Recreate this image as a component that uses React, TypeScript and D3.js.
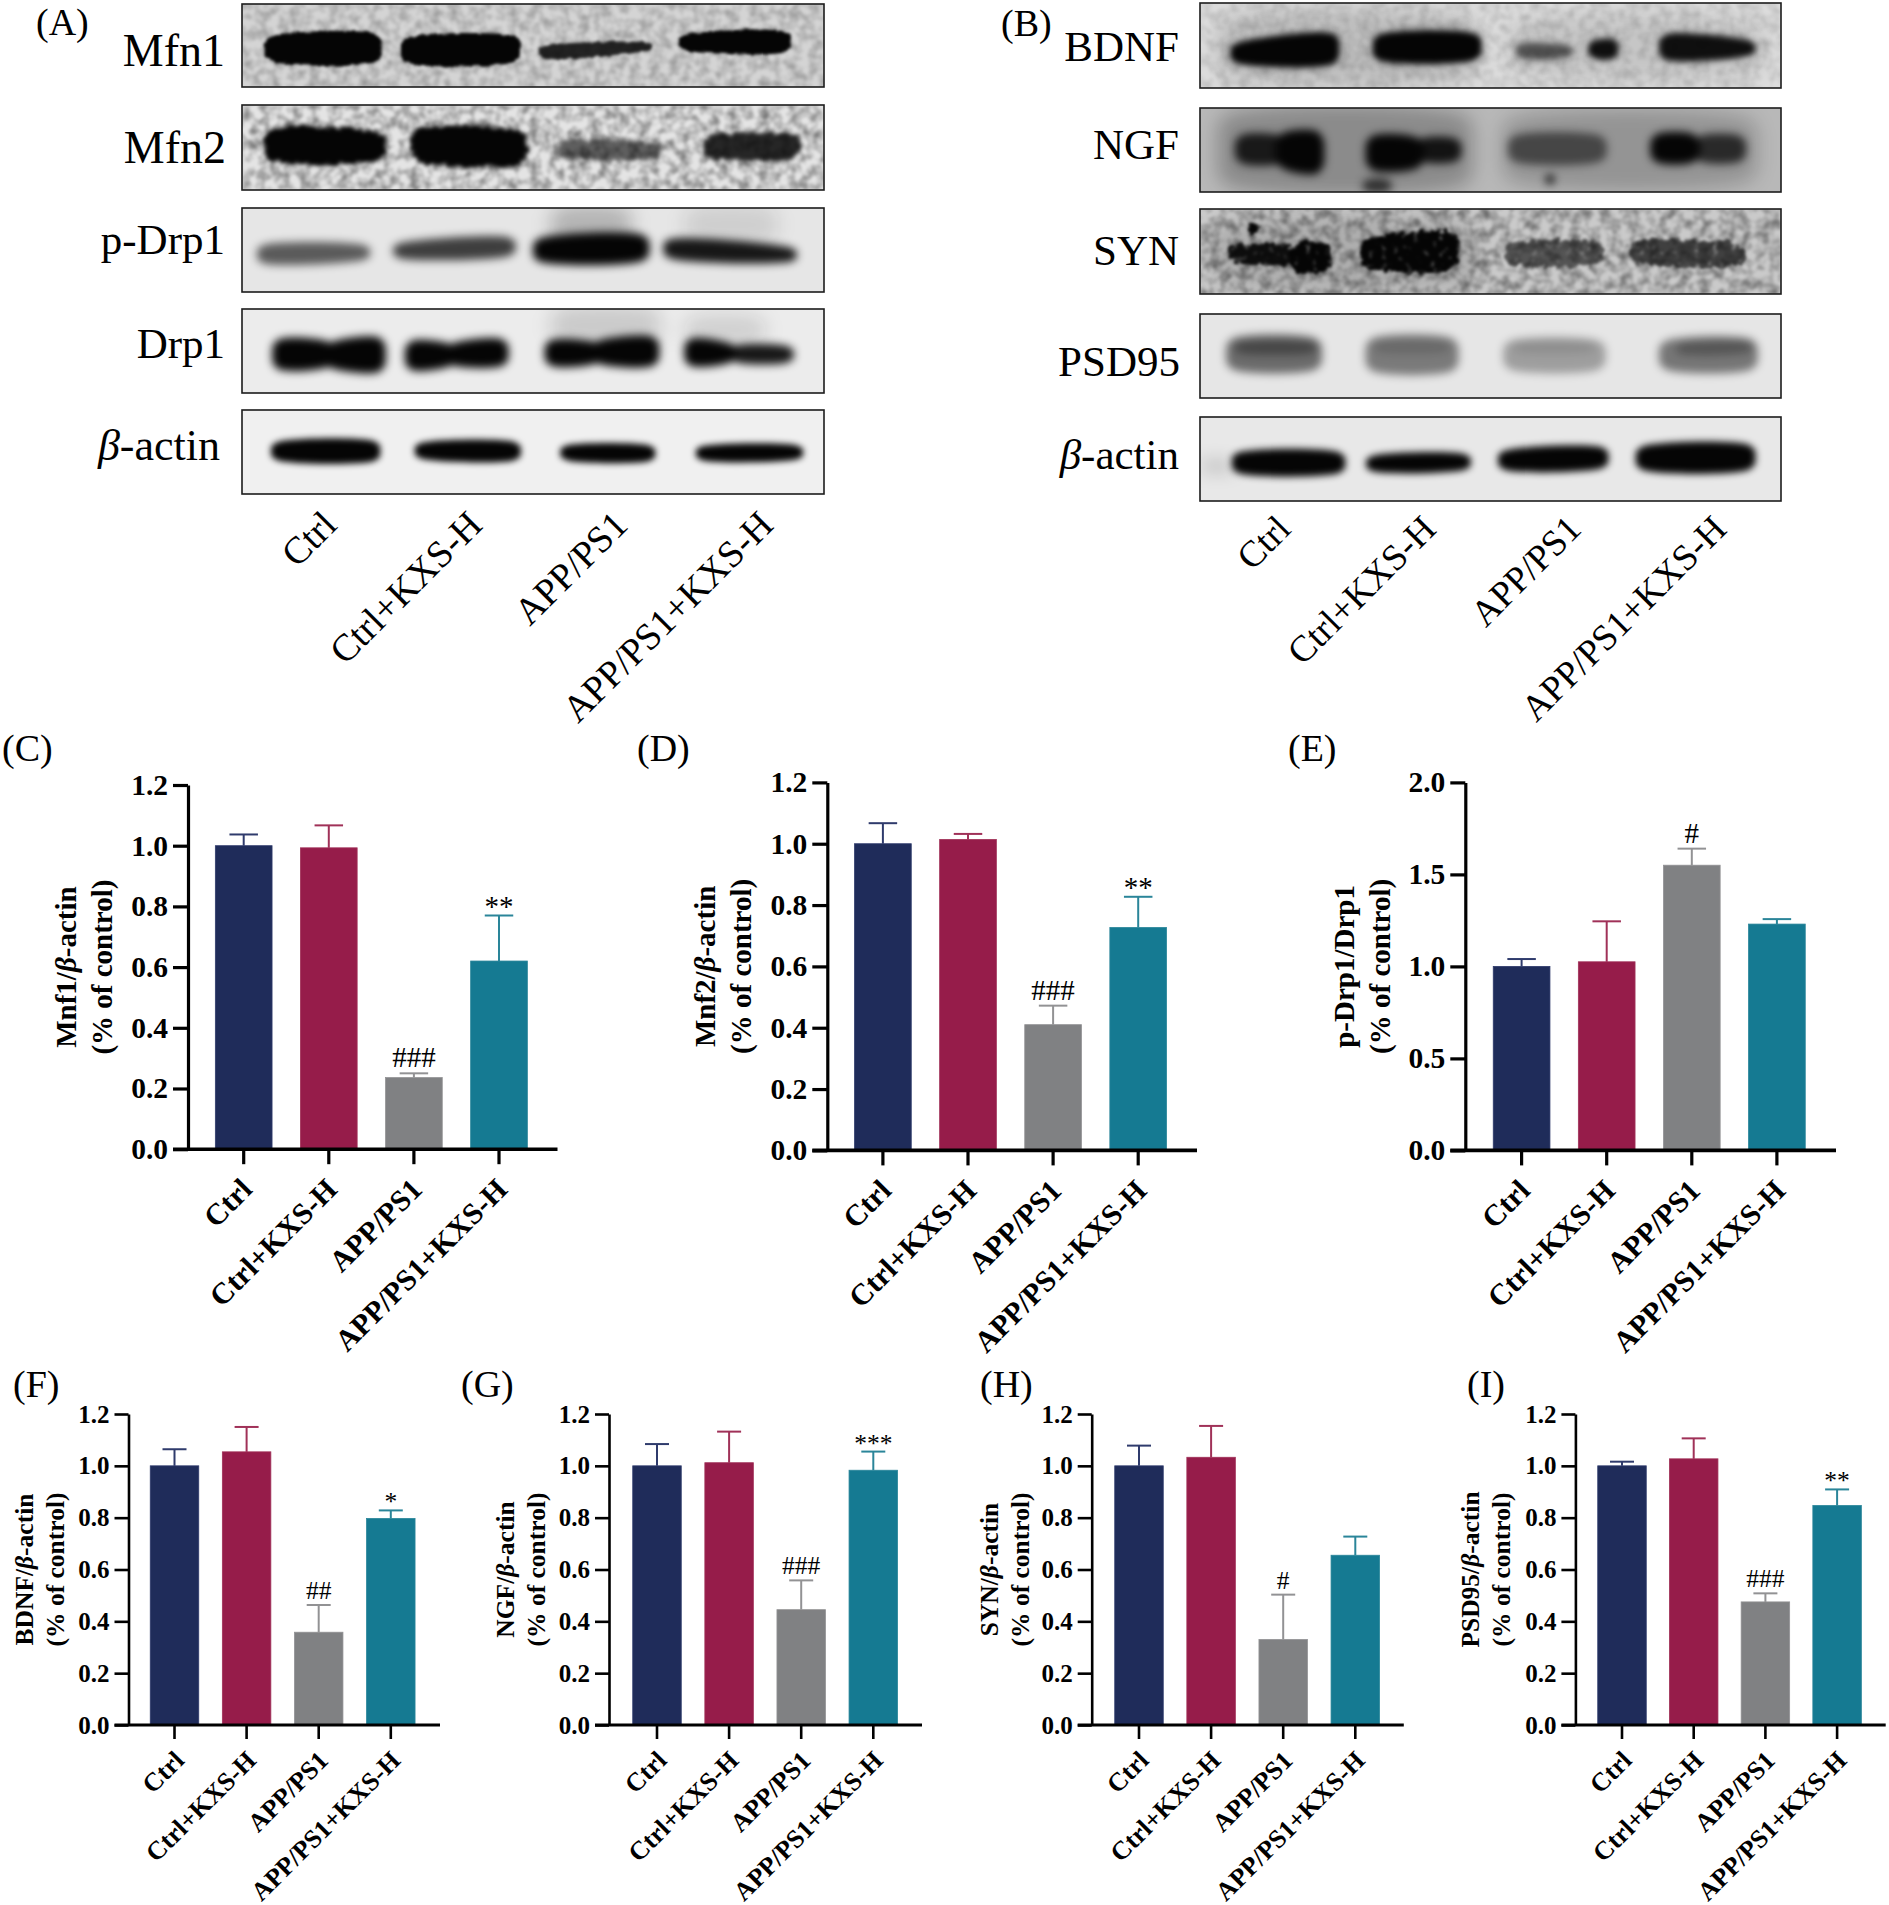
import { useEffect, useRef } from 'react';
import * as d3 from 'd3';

const WIDTH = 1889;
const HEIGHT = 1905;
const SERIF = '"Liberation Serif", "Times New Roman", serif';

// Groups and colours
const groups = ['Ctrl', 'Ctrl+KXS-H', 'APP/PS1', 'APP/PS1+KXS-H'];
const barColors = ['#1f2c5a', '#961c4a', '#808183', '#157a92'];
const edgeColors = ['#2f3b6c', '#a03158', '#929294', '#2a8599'];
const ticks12 = [0, 0.2, 0.4, 0.6, 0.8, 1.0, 1.2];
const ticks20 = [0, 0.5, 1.0, 1.5, 2.0];

// Bar values (mean, top of the error bar, mark)
const mfn1Means = [1.0, 0.993, 0.236, 0.62];
const mfn1Tops = [1.037, 1.067, 0.25, 0.77];
const mfn1Marks = ['', '', '###', '**'];
const mfn2Means = [1.0, 1.014, 0.41, 0.727];
const mfn2Tops = [1.067, 1.032, 0.472, 0.827];
const mfn2Marks = ['', '', '###', '**'];
const drpMeans = [1.0, 1.025, 1.55, 1.23];
const drpTops = [1.04, 1.245, 1.64, 1.257];
const drpMarks = ['', '', '#', ''];
const bdnfMeans = [1.0, 1.054, 0.358, 0.797];
const bdnfTops = [1.064, 1.15, 0.463, 0.828];
const bdnfMarks = ['', '', '##', '*'];
const ngfMeans = [1.0, 1.012, 0.445, 0.983];
const ngfTops = [1.084, 1.132, 0.558, 1.055];
const ngfMarks = ['', '', '###', '***'];
const synMeans = [1.0, 1.033, 0.33, 0.655];
const synTops = [1.078, 1.154, 0.503, 0.727];
const synMarks = ['', '', '#', ''];
const psdMeans = [1.0, 1.027, 0.475, 0.847];
const psdTops = [1.016, 1.106, 0.508, 0.909];
const psdMarks = ['', '', '###', '**'];

// Blot bands as fractions of the strip: x start, x end, top/bottom at start, top/bottom at end, ink
// A trailing 1 marks a faint smear that gets the wider blur
type Band = number[];
const mfn1Bands: Band[] = [[.039, .24, .39, .69, .36, .70, 1], [.273, .479, .41, .71, .39, .70, 1], [.51, .706, .50, .66, .46, .57, .85], [.75, .943, .37, .56, .33, .58, 1]];
const mfn2Bands: Band[] = [[.039, .247, .28, .65, .33, .65, 1], [.29, .49, .29, .67, .31, .69, 1], [.54, .72, .42, .62, .45, .62, .6], [.79, .96, .37, .62, .35, .62, .85]];
const pDrp1Bands: Band[] = [[.026, .22, .44, .66, .44, .62, .62], [.26, .47, .42, .60, .35, .57, .75], [.5, .70, .36, .64, .32, .63, 1], [.724, .953, .37, .60, .47, .64, .92], [.53, .67, .0, .42, .0, .42, .22, 1], [.76, .92, .0, .4, .0, .4, .1, 1]];
const drp1Bands: Band[] = [[.052, .16, .36, .72, .39, .69, 1], [.14, .247, .40, .70, .34, .75, 1], [.28, .37, .38, .73, .42, .68, 1], [.35, .458, .41, .67, .36, .68, 1], [.52, .62, .37, .68, .40, .65, 1], [.60, .717, .38, .65, .33, .68, 1], [.76, .85, .35, .68, .41, .64, 1], [.84, .948, .43, .64, .44, .64, .92], [.53, .72, .0, .4, .0, .4, .14, 1], [.76, .9, .1, .4, .1, .4, .12, 1]];
const actinABands: Band[] = [[.05, .2375, .38, .60, .37, .61, 1], [.297, .479, .39, .58, .38, .60, 1], [.547, .71, .42, .60, .42, .61, 1], [.78, .964, .43, .60, .42, .59, 1]];
const bdnfBands: Band[] = [[.052, .24, .47, .71, .36, .72, 1], [.297, .485, .37, .68, .36, .67, 1], [.544, .642, .47, .66, .50, .64, .6], [.668, .72, .44, .65, .42, .66, .95], [.79, .956, .37, .67, .44, .62, .95], [.03, .48, .2, .85, .2, .85, .14, 1], [.53, .97, .25, .8, .25, .8, .1, 1]];
const ngfBands: Band[] = [[.06, .15, .32, .66, .33, .66, .85], [.13, .214, .3, .72, .28, .78, 1], [.285, .385, .33, .74, .35, .72, 1], [.37, .45, .36, .64, .36, .64, .9], [.53, .70, .33, .64, .33, .64, .55], [.775, .86, .31, .65, .31, .65, 1], [.85, .94, .33, .64, .33, .64, .75], [.595, .61, .8, .9, .8, .9, .9], [.28, .33, .85, 1, .85, 1, .7], [.03, .47, .1, .9, .1, .9, .25, 1], [.52, .96, .15, .85, .15, .85, .2, 1]];
const synBands: Band[] = [[.05, .16, .43, .63, .42, .66, .95], [.155, .225, .40, .74, .40, .74, 1], [.275, .445, .36, .70, .28, .70, 1], [.525, .695, .40, .65, .40, .65, .6], [.74, .94, .38, .63, .42, .67, .7], [.082, .1, .17, .28, .17, .28, 1], [.02, .48, .2, .85, .2, .85, .14, 1]];
const psdBands: Band[] = [[.045, .21, .29, .66, .29, .66, .55], [.285, .445, .29, .68, .29, .68, .48], [.522, .698, .32, .66, .32, .66, .32], [.79, .96, .32, .66, .30, .66, .5], [.06, .2, .33, .47, .33, .47, .35], [.3, .43, .33, .46, .33, .46, .15], [.54, .68, .34, .46, .34, .46, .1], [.82, .95, .35, .48, .33, .46, .3]];
const actinBBands: Band[] = [[.055, .25, .42, .67, .42, .67, 1], [.286, .466, .46, .65, .44, .63, 1], [.513, .703, .40, .63, .36, .61, 1], [.75, .956, .35, .63, .33, .63, 1], [.0, .06, .55, .62, .56, .62, .35, 1]];

// Layout of the blot strips
const blotsA = {
    left: 242, right: 824, labelOffset: 24, labelY: 527, laneFont: 38, rows: [
        { name: 'Mfn1', bands: mfn1Bands, top: 4, bottom: 87, bg: '#d4d4d4', noise: 0.13, blur: 1.8, rough: 1.5, speck: 0, labelX: 225, base: 66, font: 46 },
        { name: 'Mfn2', bands: mfn2Bands, top: 105, bottom: 190, bg: '#e4e4e4', noise: 0.22, blur: 2, rough: 3, speck: 0, labelX: 226, base: 163, font: 46 },
        { name: 'p-Drp1', bands: pDrp1Bands, top: 208, bottom: 292, bg: '#e6e6e6', noise: 0, blur: 4.5, rough: 0, speck: 0, labelX: 225, base: 254, font: 43 },
        { name: 'Drp1', bands: drp1Bands, top: 309, bottom: 393, bg: '#ececec', noise: 0, blur: 4, rough: 0, speck: 0, labelX: 225, base: 358, font: 43 },
        { name: 'β-actin', bands: actinABands, top: 410, bottom: 494, bg: '#f0f0f0', noise: 0, blur: 3, rough: 0, speck: 0, labelX: 220, base: 460, font: 44 },
    ],
};
const blotsB = {
    left: 1200, right: 1781, labelOffset: 20, labelY: 531, laneFont: 37, rows: [
        { name: 'BDNF', bands: bdnfBands, top: 3, bottom: 88, bg: '#dcdcdc', noise: 0.07, blur: 3, rough: 0, speck: 0, labelX: 1179, base: 61, font: 43 },
        { name: 'NGF', bands: ngfBands, top: 108, bottom: 192, bg: '#b8b8b8', noise: 0, blur: 4.5, rough: 0, speck: 0, labelX: 1179, base: 159, font: 43 },
        { name: 'SYN', bands: synBands, top: 209, bottom: 294, bg: '#cacaca', noise: 0.22, blur: 1.5, rough: 3.5, speck: 2.6, labelX: 1179, base: 265, font: 43 },
        { name: 'PSD95', bands: psdBands, top: 314, bottom: 398, bg: '#e6e6e6', noise: 0, blur: 4.5, rough: 0, speck: 0, labelX: 1180, base: 376, font: 43 },
        { name: 'β-actin', bands: actinBBands, top: 417, bottom: 501, bg: '#e8e8e8', noise: 0, blur: 3.5, rough: 0, speck: 0, labelX: 1179, base: 469, font: 43 },
    ],
};

// Layout of the bar panels
const upperStyle = { barWidth: 56.7, cap: 28.5, tick: 15, axisWidth: 3.2, tickFont: 29.5, labelFont: 29, lineGap: 36, markFont: 29, groupFont: 30, groupDx: 10, groupDy: 42 };
const lowerStyle = { barWidth: 48.5, cap: 24, tick: 14, axisWidth: 2.6, tickFont: 25, labelFont: 25.5, lineGap: 31, markFont: 25.5, groupFont: 26, groupDx: 11, groupDy: 37 };
const panels = [
    { means: mfn1Means, tops: mfn1Tops, marks: mfn1Marks, ticks: ticks12, max: 1.2, label: 'Mnf1/β-actin', axisX: 188, first: 243.7, step: 85.1, axisEnd: 557.5, topY: 785, zeroY: 1149.2, labelX: 75.5, s: upperStyle },
    { means: mfn2Means, tops: mfn2Tops, marks: mfn2Marks, ticks: ticks12, max: 1.2, label: 'Mnf2/β-actin', axisX: 827.3, first: 882.9, step: 85.1, axisEnd: 1197, topY: 782.4, zeroY: 1150.4, labelX: 715, s: upperStyle },
    { means: drpMeans, tops: drpTops, marks: drpMarks, ticks: ticks20, max: 2.0, label: 'p-Drp1/Drp1', axisX: 1465.3, first: 1521.6, step: 85.1, axisEnd: 1836, topY: 782.4, zeroY: 1150.4, labelX: 1354, s: upperStyle },
    { means: bdnfMeans, tops: bdnfTops, marks: bdnfMarks, ticks: ticks12, max: 1.2, label: 'BDNF/β-actin', axisX: 128.5, first: 174.5, step: 72.1, axisEnd: 440, topY: 1414, zeroY: 1725, labelX: 33, s: lowerStyle },
    { means: ngfMeans, tops: ngfTops, marks: ngfMarks, ticks: ticks12, max: 1.2, label: 'NGF/β-actin', axisX: 609, first: 657, step: 72.1, axisEnd: 922, topY: 1414, zeroY: 1725, labelX: 514, s: lowerStyle },
    { means: synMeans, tops: synTops, marks: synMarks, ticks: ticks12, max: 1.2, label: 'SYN/β-actin', axisX: 1091.7, first: 1139, step: 72.1, axisEnd: 1403.8, topY: 1414, zeroY: 1725, labelX: 998, s: lowerStyle },
    { means: psdMeans, tops: psdTops, marks: psdMarks, ticks: ticks12, max: 1.2, label: 'PSD95/β-actin', axisX: 1575.4, first: 1622, step: 71.7, axisEnd: 1885.7, topY: 1414, zeroY: 1725, labelX: 1479, s: lowerStyle },
];

const letters = [
    { t: '(A)', x: 36, y: 35 }, { t: '(B)', x: 1001, y: 36 }, { t: '(C)', x: 2, y: 761 }, { t: '(D)', x: 637, y: 761 }, { t: '(E)', x: 1288, y: 761 },
    { t: '(F)', x: 13, y: 1397 }, { t: '(G)', x: 461, y: 1397 }, { t: '(H)', x: 980, y: 1397 }, { t: '(I)', x: 1467, y: 1397 },
];

type Sel = d3.Selection<any, any, any, any>;

// Splits a label on the beta so it can be set in italics
function addBetaText(text: Sel, label: string) {
    label.split(/(β)/).filter(Boolean).forEach(part => {
        text.append('tspan').attr('font-style', part === 'β' ? 'italic' : 'normal').text(part);
    });
}

function drawBlots(svg: Sel, defs: Sel, blots: typeof blotsA, id: string) {
    const x = d3.scaleLinear().domain([0, 1]).range([blots.left, blots.right]);
    const lanes = d3.scaleBand<string>().domain(groups).range([blots.left, blots.right]);

    blots.rows.forEach((row, i) => {
        const y = d3.scaleLinear().domain([0, 1]).range([row.top, row.bottom]);
        const key = `${id}${i}`;
        const h = row.bottom - row.top;
        const w = blots.right - blots.left;

        defs.append('clipPath').attr('id', `clip-${key}`)
            .append('rect').attr('x', blots.left).attr('y', row.top).attr('width', w).attr('height', h);

        // grain behind the bands
        const grain = defs.append('filter').attr('id', `grain-${key}`).attr('x', 0).attr('y', 0).attr('width', 1).attr('height', 1)
            .attr('color-interpolation-filters', 'sRGB');
        grain.append('feTurbulence').attr('type', 'fractalNoise').attr('baseFrequency', 0.1).attr('numOctaves', 2).attr('seed', i + 3);
        grain.append('feColorMatrix').attr('values', `0 0 0 0 0  0 0 0 0 0  0 0 0 0 0  ${row.noise * 4} 0 0 0 ${-row.noise * 1.4}`);
        grain.append('feGaussianBlur').attr('stdDeviation', 0.8);

        // band softening, plus torn edges on the rough strips and speckle on SYN
        const soft = defs.append('filter').attr('id', `soft-${key}`).attr('color-interpolation-filters', 'sRGB')
            .attr('filterUnits', 'userSpaceOnUse').attr('x', blots.left - 20).attr('y', row.top - 20).attr('width', w + 40).attr('height', h + 40);
        if (row.rough > 0) {
            soft.append('feTurbulence').attr('type', 'fractalNoise').attr('baseFrequency', 0.16).attr('numOctaves', 2).attr('seed', i + 11).attr('result', 'n');
            soft.append('feDisplacementMap').attr('in', 'SourceGraphic').attr('in2', 'n').attr('scale', row.rough * 3).attr('xChannelSelector', 'R').attr('yChannelSelector', 'G').attr('result', 'd');
            if (row.speck > 0) {
                soft.append('feColorMatrix').attr('in', 'n').attr('values', `0 0 0 0 0  0 0 0 0 0  0 0 0 0 0  ${row.speck} 0 0 0 0`).attr('result', 'a');
                soft.append('feComposite').attr('in', 'd').attr('in2', 'a').attr('operator', 'in').attr('result', 'd');
            }
            soft.append('feGaussianBlur').attr('in', 'd').attr('stdDeviation', row.blur);
        } else {
            soft.append('feGaussianBlur').attr('stdDeviation', row.blur);
        }
        const wide = defs.append('filter').attr('id', `wide-${key}`).attr('color-interpolation-filters', 'sRGB')
            .attr('filterUnits', 'userSpaceOnUse').attr('x', blots.left - 40).attr('y', row.top - 40).attr('width', w + 80).attr('height', h + 80);
        wide.append('feGaussianBlur').attr('stdDeviation', 9);

        const g = svg.append('g').attr('clip-path', `url(#clip-${key})`);
        g.append('rect').attr('x', blots.left).attr('y', row.top).attr('width', w).attr('height', h).attr('fill', row.bg);
        if (row.noise > 0) {
            g.append('rect').attr('x', blots.left).attr('y', row.top).attr('width', w).attr('height', h)
                .attr('fill', '#000').attr('filter', `url(#grain-${key})`);
        }

        const area = d3.area<number[]>().x(d => x(d[0])).y0(d => y(d[1])).y1(d => y(d[2])).curve(d3.curveCatmullRom.alpha(0.5));
        const bandPath = (b: Band) => {
            const midStart = (b[2] + b[3]) / 2;
            const midEnd = (b[4] + b[5]) / 2;
            const capStart = (b[3] - b[2]) / 4;
            const capEnd = (b[5] - b[4]) / 4;
            const inset = Math.min(0.012, (b[1] - b[0]) / 5);
            return area([
                [b[0], midStart - capStart, midStart + capStart],
                [b[0] + inset, b[2], b[3]],
                [b[1] - inset, b[4], b[5]],
                [b[1], midEnd - capEnd, midEnd + capEnd],
            ]);
        };

        // faint smears first, sharper bands over them
        g.append('g').attr('filter', `url(#wide-${key})`)
            .selectAll('path').data(row.bands.filter(b => b.length > 7)).join('path')
            .attr('d', bandPath).attr('fill', '#050505').attr('fill-opacity', b => b[6]);
        g.append('g').attr('filter', `url(#soft-${key})`)
            .selectAll('path').data(row.bands.filter(b => b.length === 7)).join('path')
            .attr('d', bandPath).attr('fill', '#050505').attr('fill-opacity', b => b[6]);

        svg.append('rect').attr('x', blots.left).attr('y', row.top).attr('width', w).attr('height', h)
            .attr('fill', 'none').attr('stroke', '#1c1c1c').attr('stroke-width', 1.6);

        const t = svg.append('text').attr('x', row.labelX).attr('y', row.base).attr('text-anchor', 'end')
            .attr('font-family', SERIF).attr('font-size', row.font).attr('fill', '#000');
        addBetaText(t, row.name);
    });

    svg.append('g').selectAll('text').data(groups).join('text')
        .attr('text-anchor', 'end').attr('font-family', SERIF).attr('font-size', blots.laneFont).attr('fill', '#000')
        .attr('transform', d => `translate(${lanes(d)! + lanes.bandwidth() / 2 + blots.labelOffset},${blots.labelY}) rotate(-45)`)
        .text(d => d);
}

function drawPanel(svg: Sel, p: typeof panels[number]) {
    const s = p.s;
    const x = d3.scaleBand<string>().domain(groups)
        .range([p.first - p.step / 2, p.first + p.step * 3.5])
        .paddingInner(1 - s.barWidth / p.step).paddingOuter((1 - s.barWidth / p.step) / 2);
    const y = d3.scaleLinear().domain([0, p.max]).range([p.zeroY, p.topY]);
    const g = svg.append('g');

    // Error bars sit behind the bars
    const err = g.append('g').selectAll('g').data(groups).join('g').attr('stroke', (_, i) => edgeColors[i]).attr('stroke-width', 2);
    err.append('line').attr('x1', d => x(d)! + x.bandwidth() / 2).attr('x2', d => x(d)! + x.bandwidth() / 2)
        .attr('y1', (_, i) => y(p.means[i])).attr('y2', (_, i) => y(p.tops[i]));
    err.append('line').attr('x1', d => x(d)! + x.bandwidth() / 2 - s.cap / 2).attr('x2', d => x(d)! + x.bandwidth() / 2 + s.cap / 2)
        .attr('y1', (_, i) => y(p.tops[i])).attr('y2', (_, i) => y(p.tops[i]));

    g.append('g').selectAll('rect').data(groups).join('rect')
        .attr('x', d => x(d)!).attr('width', x.bandwidth())
        .attr('y', (_, i) => y(p.means[i])).attr('height', (_, i) => y(0) - y(p.means[i]))
        .attr('fill', (_, i) => barColors[i]).attr('stroke', (_, i) => edgeColors[i]).attr('stroke-width', 0.8);

    // Significance marks: # stands clear of the cap, * rides high in its em box
    g.append('g').selectAll('text').data(groups).join('text')
        .attr('text-anchor', 'middle').attr('font-family', SERIF).attr('font-size', s.markFont).attr('fill', '#000')
        .attr('x', d => x(d)! + x.bandwidth() / 2)
        .attr('y', (_, i) => y(p.tops[i]) - (p.marks[i].startsWith('#') ? 6 : 0))
        .text((_, i) => p.marks[i]);

    const yAxis = g.append('g').attr('transform', `translate(${p.axisX},0)`)
        .call(d3.axisLeft(y).tickValues(p.ticks).tickFormat(d3.format('.1f')).tickSize(s.tick).tickSizeOuter(0).tickPadding(5));
    yAxis.attr('font-family', SERIF).attr('font-size', s.tickFont).attr('font-weight', 'bold');
    yAxis.selectAll('line, path').attr('stroke', '#000').attr('stroke-width', s.axisWidth);
    yAxis.selectAll('text').attr('fill', '#000');

    const xAxis = g.append('g').attr('transform', `translate(0,${p.zeroY})`)
        .call(d3.axisBottom(x).tickSize(s.tick).tickSizeOuter(0));
    xAxis.select('.domain').remove();
    xAxis.attr('font-family', SERIF).attr('font-size', s.groupFont).attr('font-weight', 'bold');
    xAxis.selectAll('line').attr('stroke', '#000').attr('stroke-width', s.axisWidth);
    xAxis.selectAll('text').attr('x', 0).attr('y', 0).attr('dy', 0).attr('fill', '#000')
        .attr('text-anchor', 'end')
        .attr('transform', `translate(${s.groupDx},${s.groupDy}) rotate(-45)`);

    g.append('line').attr('x1', p.axisX - s.tick).attr('x2', p.axisEnd).attr('y1', p.zeroY).attr('y2', p.zeroY)
        .attr('stroke', '#000').attr('stroke-width', s.axisWidth + 0.4);

    // Two-line y title
    const midY = (p.zeroY + p.topY) / 2;
    const title = g.append('text').attr('text-anchor', 'middle').attr('font-family', SERIF).attr('font-weight', 'bold')
        .attr('font-size', s.labelFont).attr('fill', '#000').attr('transform', `translate(${p.labelX},${midY}) rotate(-90)`);
    addBetaText(title, p.label);
    g.append('text').attr('text-anchor', 'middle').attr('font-family', SERIF).attr('font-weight', 'bold')
        .attr('font-size', s.labelFont).attr('fill', '#000').attr('transform', `translate(${p.labelX + s.lineGap},${midY}) rotate(-90)`)
        .text('(% of control)');
}

export default function App() {
    const svgRef = useRef<SVGSVGElement | null>(null);

    useEffect(() => {
        if (!svgRef.current) return;
        const svg = d3.select(svgRef.current);
        svg.selectAll('*').remove();
        const defs = svg.append('defs');

        drawBlots(svg, defs, blotsA, 'a');
        drawBlots(svg, defs, blotsB, 'b');
        panels.forEach(p => drawPanel(svg, p));

        svg.append('g').selectAll('text').data(letters).join('text')
            .attr('x', d => d.x).attr('y', d => d.y)
            .attr('font-family', SERIF).attr('font-size', 38).attr('fill', '#000')
            .text(d => d.t);
    }, []);

    return (
        <svg ref={svgRef} width={WIDTH} height={HEIGHT}
            style={{ position: 'absolute', left: 0, top: 0, background: '#fff' }} />
    );
}
